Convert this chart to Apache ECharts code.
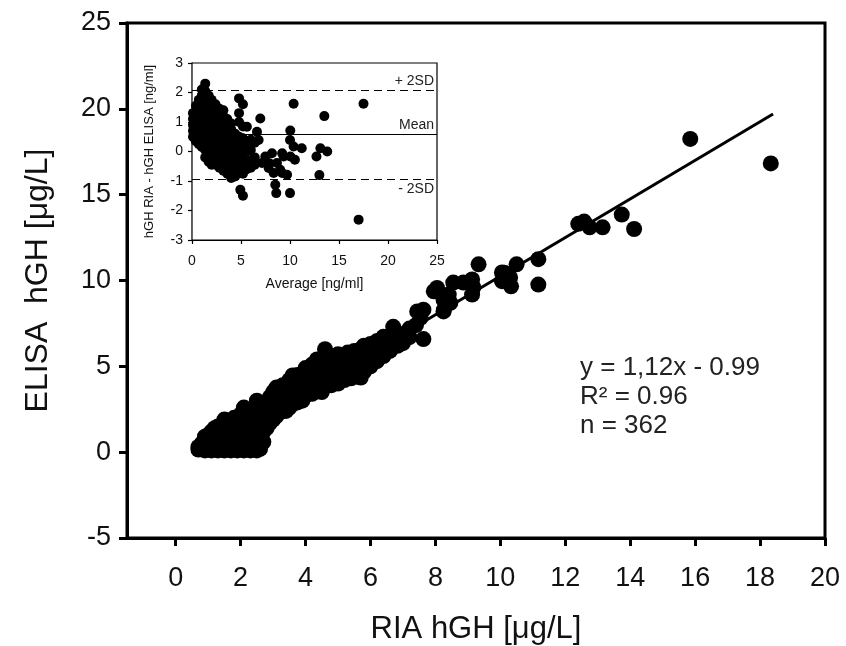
<!DOCTYPE html>
<html><head><meta charset="utf-8">
<script src="https://cdn.jsdelivr.net/npm/echarts@6/dist/echarts.min.js"></script>
<style>html,body{margin:0;padding:0;background:#fff}#c{width:846px;height:646px}</style>
</head><body><div id="c"></div>
<script>
// ---------- data ----------
const mainXTicks = [0, 2, 4, 6, 8, 10, 12, 14, 16, 18, 20];
const mainYTicks = [-5, 0, 5, 10, 15, 20, 25];
const mainXTitle = 'RIA hGH [μg/L]';
const mainYTitle = 'ELISA  hGH [μg/L]';
const statsLines = ['y = 1,12x - 0.99', 'R² = 0.96', 'n = 362'];

// RIA (x) vs ELISA (y)
const mainPoints = [
[0.7,0.15],[0.7,0.3],[0.8,0.2],[0.8,0.5],[0.9,0.1],[0.9,0.6],[0.9,0.9],
[1.0,0.2],[1.0,0.5],[1.0,1.0],[1.1,0.1],[1.1,0.7],[1.1,1.2],[1.2,0.3],[1.2,0.9],[1.2,1.4],
[1.3,0.1],[1.3,0.6],[1.3,1.1],[1.3,1.5],[1.4,0.2],[1.4,0.8],[1.4,1.3],
[1.5,0.1],[1.5,0.5],[1.5,1.0],[1.5,1.6],[1.5,1.9],[1.6,0.3],[1.6,0.8],[1.6,1.4],
[1.7,0.1],[1.7,0.6],[1.7,1.1],[1.7,1.7],[1.8,0.2],[1.8,0.9],[1.8,1.5],[1.8,2.0],
[1.9,0.1],[1.9,0.5],[1.9,1.2],[1.9,1.8],[2.0,0.3],[2.0,0.8],[2.0,1.4],[2.0,2.2],
[2.1,0.1],[2.1,0.6],[2.1,1.1],[2.1,1.7],[2.1,2.6],[2.2,0.2],[2.2,0.9],[2.2,1.5],[2.2,2.3],
[2.3,0.1],[2.3,0.5],[2.3,1.2],[2.3,1.9],[2.4,0.3],[2.4,0.8],[2.4,1.6],[2.4,2.4],
[2.5,0.1],[2.5,0.6],[2.5,1.1],[2.5,2.0],[2.5,3.0],[2.6,0.2],[2.6,0.9],[2.6,1.4],[2.6,2.5],
[2.7,0.6],[2.7,1.2],[2.7,1.9],[2.8,1.4],[2.8,2.2],[2.8,2.8],[2.9,1.7],[2.9,2.4],[2.9,3.2],
[3.0,1.9],[3.0,2.7],[3.0,3.5],[3.1,2.1],[3.1,2.9],[3.1,3.76],[3.2,2.3],[3.2,3.2],
[3.3,2.5],[3.3,3.0],[3.3,3.9],[3.4,2.4],[3.4,3.4],[3.5,2.6],[3.5,3.1],[3.5,4.2],
[3.6,2.8],[3.6,3.6],[3.6,4.47],[3.75,2.9],[3.75,3.3],[3.75,4.5],[3.9,3.0],[3.9,3.8],
[4.0,3.3],[4.0,4.1],[4.0,4.9],[4.1,3.5],[4.1,4.4],[4.2,3.4],[4.2,3.9],[4.2,5.1],
[4.3,3.6],[4.3,4.6],[4.35,5.4],[4.4,3.8],[4.4,4.3],[4.5,3.5],[4.5,4.0],[4.5,4.9],
[4.6,3.8],[4.6,4.4],[4.6,6.0],[4.7,4.1],[4.7,4.8],[4.7,5.6],[4.8,3.9],[4.8,5.2],
[4.9,4.2],[4.9,4.6],[4.9,5.6],[5.0,4.0],[5.0,5.0],[5.0,5.7],[5.1,4.4],[5.1,5.3],
[5.2,4.2],[5.2,4.8],[5.2,5.6],[5.3,4.5],[5.3,5.1],[5.3,5.8],[5.4,4.3],[5.4,5.4],
[5.5,4.6],[5.5,5.0],[5.5,5.9],[5.6,4.4],[5.6,5.6],[5.7,4.35],[5.7,5.2],[5.7,6.0],
[5.8,4.7],[5.8,5.5],[5.8,6.2],[5.9,5.0],[5.9,5.8],[6.0,5.0],[6.0,6.3],[6.1,5.4],[6.1,6.0],
[6.2,5.3],[6.2,5.7],[6.2,6.47],[6.4,5.6],[6.4,6.2],[6.4,6.72],[6.6,5.9],[6.6,6.6],[6.7,7.3],
[6.83,6.2],[6.83,6.94],[7.0,6.35],[7.0,6.8],[7.2,6.7],[7.2,7.2],[7.4,7.4],[7.44,8.2],[7.54,7.82],[7.63,6.59],[7.63,8.3],
[7.95,9.37],[8.05,9.57],[8.25,8.2],[8.25,8.88],[8.26,8.29],[8.41,9.18],[8.46,8.7],[8.55,9.88],[8.86,9.88],
[9.13,9.18],[9.13,10.06],[9.17,9.6],[9.33,10.94],[10.05,9.96],[10.05,10.47],[10.12,10.45],[10.3,10.18],[10.33,9.66],[10.5,10.94],
[11.17,11.24],[11.17,9.76],[12.4,13.3],[12.58,13.43],[12.75,13.1],[13.15,13.1],[13.74,13.84],[14.12,13.0],[15.85,18.25],[18.33,16.82]
];

// regression line endpoints
const fitLine = [[0.75, -0.15], [18.4, 19.7]];

// Bland-Altman inset: average (x) vs difference RIA - ELISA (y)
const insetXTicks = [0, 5, 10, 15, 20, 25];
const insetYTicks = [-3, -2, -1, 0, 1, 2, 3];
const insetXTitle = 'Average [ng/ml]';
const insetYTitle = 'hGH RIA - hGH ELISA [ng/ml]';
const insetPlus2SD = 2.06;
const insetMean = 0.57;
const insetMinus2SD = -0.94;
const insetPoints = [
[0.1,0.5],[0.1,0.7],[0.1,0.9],[0.1,1.1],[0.1,1.3],
[0.4,0.35],[0.4,0.6],[0.4,0.85],[0.4,1.1],[0.4,1.35],[0.4,1.55],
[0.7,0.25],[0.7,0.5],[0.7,0.75],[0.7,1.0],[0.7,1.25],[0.7,1.5],[0.7,1.75],
[1.0,0.15],[1.0,0.4],[1.0,0.65],[1.0,0.9],[1.0,1.15],[1.0,1.4],[1.0,1.65],[1.0,1.9],[1.0,2.1],
[1.35,-0.2],[1.35,0.05],[1.35,0.3],[1.35,0.55],[1.35,0.8],[1.35,1.05],[1.35,1.3],[1.35,1.55],[1.35,1.8],[1.35,2.05],[1.35,2.3],
[1.7,-0.35],[1.7,-0.1],[1.7,0.2],[1.7,0.45],[1.7,0.7],[1.7,0.95],[1.7,1.2],[1.7,1.45],[1.7,1.7],[1.7,1.9],
[2.0,-0.45],[2.0,-0.2],[2.0,0.05],[2.0,0.3],[2.0,0.55],[2.0,0.8],[2.0,1.05],[2.0,1.3],[2.0,1.55],[2.0,1.75],
[2.4,-0.45],[2.4,-0.15],[2.4,0.1],[2.4,0.4],[2.4,0.65],[2.4,0.9],[2.4,1.15],[2.4,1.4],[2.4,1.6],
[2.8,-0.55],[2.8,-0.3],[2.8,0.0],[2.8,0.25],[2.8,0.5],[2.8,0.75],[2.8,1.0],[2.8,1.25],[2.8,1.45],
[3.2,-0.65],[3.2,-0.35],[3.2,-0.1],[3.2,0.15],[3.2,0.4],[3.2,0.65],[3.2,0.9],[3.2,1.2],[3.2,1.4],
[3.6,-0.75],[3.6,-0.45],[3.6,-0.2],[3.6,0.05],[3.6,0.3],[3.6,0.55],[3.6,0.8],[3.6,1.1],
[4.0,-0.9],[4.0,-0.6],[4.0,-0.3],[4.0,0.0],[4.0,0.25],[4.0,0.5],[4.0,0.75],[4.0,0.95],
[4.4,-0.85],[4.4,-0.55],[4.4,-0.25],[4.4,0.05],[4.4,0.3],[4.4,0.6],
[4.8,-0.7],[4.8,-0.4],[4.8,-0.1],[4.8,0.2],[4.8,0.5],[4.8,1.0],[4.8,1.3],[4.8,1.8],
[5.2,-0.75],[5.2,-0.45],[5.2,-0.2],[5.2,0.1],[5.2,0.45],[5.2,0.85],[5.2,1.6],
[5.6,-0.6],[5.6,-0.35],[5.6,0.0],[5.6,0.3],[5.6,0.84],
[6.0,-0.55],[6.0,-0.3],[6.0,0.05],[6.0,0.4],[6.4,-0.45],[6.4,-0.2],[6.4,0.3],
[6.63,0.67],[6.8,0.39],[6.97,1.12],[4.93,-1.3],[5.2,-1.5],
[7.14,-0.39],[7.48,-0.17],[7.82,-0.56],[7.9,-0.4],[8.16,-0.06],[8.33,-0.73],[8.5,-1.13],[8.67,-0.39],[8.6,-1.41],
[9.0,-0.62],[9.2,-0.06],[9.2,-0.73],[9.35,-0.17],[9.7,-0.79],[10.0,-1.41],[10.0,0.39],[10.03,0.71],[10.03,-0.17],
[10.37,0.17],[10.5,-0.28],[11.2,0.11],[10.37,1.62],[12.7,-0.17],[13.1,0.11],[13.8,0.0],[13.0,-0.8],[13.5,1.2],
[17.5,1.62],[17.0,-2.31]
];

// ---------- chart ----------
const FONT = 'Liberation Sans, Arial, Helvetica, sans-serif';
const chart = echarts.init(document.getElementById('c'), null, {renderer: 'canvas'});

const option = {
  animation: false,
  backgroundColor: '#fff',
  textStyle: {fontFamily: FONT},
  grid: [
    {left: 127, top: 23, right: 21, bottom: 108, containLabel: false, outerBoundsMode: 'none',
     show: true, borderColor: '#000', borderWidth: 3, backgroundColor: 'transparent', z: 0},
    {left: 192, top: 63, width: 245, height: 177, containLabel: false, outerBoundsMode: 'none',
     show: true, borderColor: '#000', borderWidth: 1.2, backgroundColor: '#fff', z: 1}
  ],
  xAxis: [
    {
      gridIndex: 0, type: 'value', min: -1.5, max: 20,
      axisLine: {show: true, onZero: false, lineStyle: {color: '#000', width: 3}},
      axisTick: {show: true, customValues: mainXTicks, length: 8, inside: false, lineStyle: {color: '#000', width: 3}},
      axisLabel: {customValues: mainXTicks, fontSize: 27, color: '#111', margin: 27, fontFamily: FONT},
      splitLine: {show: false},
      name: mainXTitle, nameLocation: 'middle', nameGap: 76,
      nameTextStyle: {fontSize: 31, color: '#111', fontFamily: FONT}
    },
    {
      gridIndex: 1, type: 'value', min: 0, max: 25, interval: 5,
      axisLine: {show: true, onZero: false, lineStyle: {color: '#000', width: 1.2}},
      axisTick: {show: true, length: 4, inside: false, lineStyle: {color: '#000', width: 1.2}},
      axisLabel: {customValues: insetXTicks, fontSize: 14, color: '#111', margin: 14, fontFamily: FONT},
      splitLine: {show: false},
      name: insetXTitle, nameLocation: 'middle', nameGap: 37,
      nameTextStyle: {fontSize: 14, color: '#111', fontFamily: FONT}
    }
  ],
  yAxis: [
    {
      gridIndex: 0, type: 'value', min: -5, max: 25, interval: 5,
      axisLine: {show: true, onZero: false, lineStyle: {color: '#000', width: 3}},
      axisTick: {show: true, customValues: mainYTicks, length: 8, inside: false, lineStyle: {color: '#000', width: 3}},
      axisLabel: {customValues: mainYTicks, fontSize: 27, color: '#111', margin: 16, fontFamily: FONT},
      splitLine: {show: false},
      name: mainYTitle, nameLocation: 'middle', nameGap: 73, nameRotate: 90,
      nameTextStyle: {fontSize: 32, color: '#111', fontFamily: FONT}
    },
    {
      gridIndex: 1, type: 'value', min: -3, max: 3, interval: 1,
      axisLine: {show: true, onZero: false, lineStyle: {color: '#000', width: 1.2}},
      axisTick: {show: true, length: 4, inside: false, lineStyle: {color: '#000', width: 1.2}},
      axisLabel: {customValues: insetYTicks, fontSize: 14, color: '#111', margin: 9, fontFamily: FONT},
      splitLine: {show: false},
      name: insetYTitle, nameLocation: 'middle', nameGap: 36, nameRotate: 90,
      nameTextStyle: {fontSize: 13, color: '#111', fontFamily: FONT}
    }
  ],
  graphic: statsLines.map((t, i) => ({
    type: 'text', left: 580, top: 355 + i * 29, z: 10,
    style: {text: t, fontSize: 26, fill: '#222', fontFamily: FONT}
  })),
  series: [
    {
      type: 'line', xAxisIndex: 0, yAxisIndex: 0, data: fitLine,
      symbol: 'none', lineStyle: {color: '#000', width: 3}, z: 3, silent: true
    },
    {
      type: 'scatter', xAxisIndex: 0, yAxisIndex: 0, data: mainPoints,
      symbolSize: 16, itemStyle: {color: '#000', opacity: 1}, z: 4, silent: true
    },
    {
      type: 'scatter', xAxisIndex: 1, yAxisIndex: 1, data: insetPoints,
      symbolSize: 10, itemStyle: {color: '#000', opacity: 1}, z: 5, silent: true,
      markLine: {
        silent: true, symbol: 'none', animation: false,
        label: {fontSize: 14, color: '#222', fontFamily: FONT, distance: 3},
        data: [
          {yAxis: insetPlus2SD, lineStyle: {type: [8, 5], color: '#000', width: 1.2},
           label: {formatter: '+ 2SD', position: 'insideEndTop'}},
          {yAxis: insetMean, lineStyle: {type: 'solid', color: '#000', width: 1.2},
           label: {formatter: 'Mean', position: 'insideEndTop'}},
          {yAxis: insetMinus2SD, lineStyle: {type: [8, 5], color: '#000', width: 1.2},
           label: {formatter: '- 2SD', position: 'insideEndBottom'}}
        ]
      }
    }
  ]
};
chart.setOption(option);
</script>
</body></html>
